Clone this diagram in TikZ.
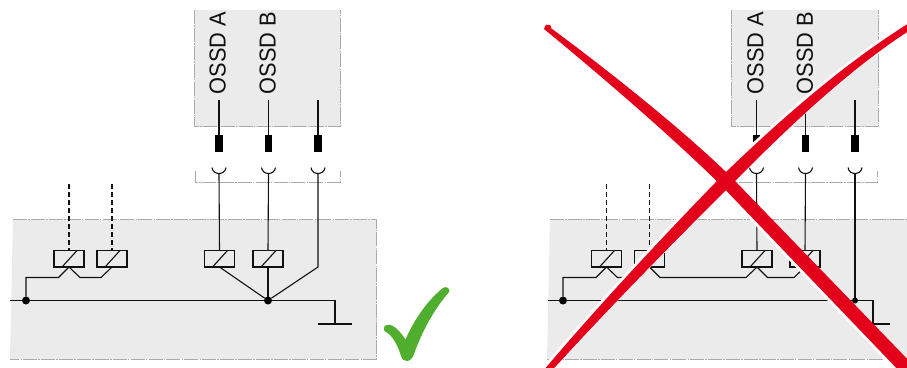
\documentclass[tikz,border=0pt]{standalone}
\usepackage{fontspec}
\setmainfont{Liberation Sans}
\definecolor{panelgray}{HTML}{EBEBEB}
\definecolor{edgegray}{HTML}{ABABAB}
\definecolor{crossred}{HTML}{E2001A}
\definecolor{okgreen}{HTML}{4FAE2E}
\definecolor{ink}{HTML}{111111}
\tikzset{
  panel/.style={fill=panelgray,draw=none},
  edge/.style={draw=edgegray,line width=1pt,dash pattern=on 14pt off 1.2pt on 1.5pt off 1.2pt},
  wire/.style={draw=ink,line width=1.1pt,line join=miter},
  buswire/.style={draw=ink,line width=1.5pt},
  dashwire/.style={draw=ink,line width=1.1pt,dash pattern=on 4.5pt off 3.5pt},
  relay/.style={draw=ink,line width=1.1pt,minimum width=30pt,minimum height=16.5pt,inner sep=0pt,outer sep=0pt},
  tab/.style={fill=black,draw=none,minimum width=7.3pt,minimum height=17.3pt,inner sep=0pt,outer sep=0pt},
  joint/.style={circle,fill=black,minimum size=8pt,inner sep=0pt,outer sep=0pt},
  osslabel/.style={rotate=90,yscale=1.06,anchor=base west,inner sep=0pt,font=\fontsize{21.8pt}{22pt}\selectfont,text=ink},
}
\newcommand{\relaybar}[1]{\draw[wire] ([xshift=8pt]#1.south west) -- ([xshift=-7pt]#1.north east);}
\begin{document}
\begin{tikzpicture}[x=1pt,y=-1pt]
\useasboundingbox (0,0) rectangle (907,367);
% ---------- left panel ----------
\fill[panel] (13,219.5) -- (376,219.5) -- (376,359) -- (10,359) -- cycle;
\draw[edge] (13,219.5) -- (376,219.5) -- (376,359) -- (10,359);
\fill[panel] (194,10) rectangle (340.5,126.5);
\draw[edge] (194,10) -- (194,126.5) -- (340.5,126.5) -- (340.5,10);
\draw[edge] (195.5,171) -- (195.5,182.5) -- (340,182.5) -- (340,171);
\node[osslabel] (la) at (225.5,94.5) {OSSD A};
\node[osslabel] (lb) at (275.5,94.5) {OSSD B};
\foreach \n/\x in {a/219,b/268.5,c/318}{
  \coordinate (ltop\n) at (\x,100);
  \coordinate (lsock\n) at (\x,173.5);
  \node[tab] (ltab\n) at (\x,143.6) {};
  \draw[wire] (ltop\n) -- (ltab\n.north);
  \draw[wire] (\x-7,167.5) .. controls (\x-6,175.5) and (\x+6,175.5) .. (\x+7,167.5);
}
\node[relay] (r1) at (69,258.75) {};
\node[relay] (r2) at (112,258.75) {};
\node[relay] (r3) at (219.5,258.75) {};
\node[relay] (r4) at (268,258.75) {};
\foreach \r in {r1,r2,r3,r4}{\relaybar{\r}}
\coordinate (d1) at (69,184);
\coordinate (d2) at (112,184);
\draw[dashwire] (d1) -- (r1.north);
\draw[dashwire] (d2) -- (r2.north);
\coordinate (busl) at (10,300.5);
\coordinate (gndl) at (335,300.5);
\coordinate (gbl) at (335,324);
\node[joint] (j1) at (26,300.5) {};
\node[joint] (j2) at (268,300.5) {};
\draw[buswire] (busl) -- (j1) -- (j2) -- (gndl) -- (gbl);
\draw[buswire] (318,324) -- (352,324);
\draw[wire] (j1) -- (26,277.5) -- (58.5,277.5) -- (r1.south) -- (80,277.5) -- (101,277.5) -- (r2.south);
\draw[wire] (lsocka) -- (r3.north);
\draw[wire] (lsockb) -- (r4.north);
\draw[wire] (r3.south) -- (j2);
\draw[wire] (r4.south) -- (j2);
\draw[wire] (lsockc) -- (318,267) -- (j2);
% check mark
\fill[okgreen] (384,328) .. controls (384,325) and (388,324) .. (392,325.5) .. controls (397,328) and (402,334) .. (405.5,339.5) .. controls (415,318) and (428,300) .. (443,288) .. controls (446,285.5) and (451,289) .. (449,292) .. controls (437,306) and (424,326) .. (414,354) .. controls (411,363) and (403,363) .. (401,356) .. controls (398,346) and (393,336) .. (386,332) .. controls (384,331) and (384,330) .. (384,328) -- cycle;
% ---------- right panel ----------
\fill[panel] (550,219.5) -- (907,219.5) -- (907,359) -- (547,359) -- cycle;
\draw[edge] (550,219.5) -- (907,219.5);
\draw[edge] (547,359) -- (907,359);
\fill[panel] (731,10) rectangle (878,126.5);
\draw[edge] (731,10) -- (731,126.5) -- (878,126.5) -- (878,10);
\draw[edge] (733,171) -- (733,182.5) -- (877.5,182.5) -- (877.5,171);
\node[osslabel] (ra) at (763.3,94.5) {OSSD A};
\node[osslabel] (rb) at (812.8,94.5) {OSSD B};
\foreach \n/\x in {a/756.5,b/805.5,c/855}{
  \coordinate (rtop\n) at (\x,100);
  \coordinate (rsock\n) at (\x,173.5);
  \node[tab] (rtab\n) at (\x,143.6) {};
  \draw[wire] (rtop\n) -- (rtab\n.north);
  \draw[wire] (\x-7,167.5) .. controls (\x-6,175.5) and (\x+6,175.5) .. (\x+7,167.5);
}
\node[relay] (s1) at (606.5,258.75) {};
\node[relay] (s2) at (649.5,258.75) {};
\node[relay] (s3) at (757,258.75) {};
\node[relay] (s4) at (805,258.75) {};
\foreach \r in {s1,s2,s3,s4}{\relaybar{\r}}
\coordinate (e1) at (606.5,184);
\coordinate (e2) at (649.5,184);
\draw[dashwire] (e1) -- (s1.north);
\draw[dashwire] (e2) -- (s2.north);
\coordinate (busr) at (547.5,300.5);
\coordinate (gndr) at (873,300.5);
\coordinate (gbr) at (873,324);
\node[joint] (k1) at (563,300.5) {};
\node[joint,minimum size=6pt] (k2) at (855,300.5) {};
\draw[buswire] (busr) -- (k1) -- (k2) -- (gndr) -- (gbr);
\draw[buswire] (856,324) -- (890,324);
\draw[wire] (k1) -- (563,277.5) -- (596,277.5) -- (s1.south) -- (617.5,277.5) -- (638,277.5) -- (s2.south) -- (660,277.5) -- (746,277.5) -- (s3.south) -- (767.5,277.5) -- (794,277.5) -- (s4.south);
\draw[wire] (rsocka) -- (s3.north);
\draw[wire] (rsockb) -- (s4.north);
\draw[wire] (rsockc) -- (k2);
% ---------- red cross ----------
\def\strokeone{(546,24.5) .. controls (600,64) and (680,127) .. (730.4,176.2) -- (916,368) -- (904,376) -- (721.6,185.8) .. controls (670,135) and (600,75) .. (544,29) -- cycle}
\def\stroketwo{(909.9,22.5) .. controls (850,60) and (790,110) .. (721.4,176.4) .. controls (680,219) and (610,292) .. (543,371) -- (551.5,371) .. controls (620,296) and (690,226) .. (730.6,185.6) .. controls (795,120) and (855,65) .. (914.1,27.5) -- cycle}
\begin{scope}
\clip (0,0) rectangle (907,367);
\fill[white,shift={(-2,2)}] \strokeone;
\fill[white,shift={(-2,-2)}] \stroketwo;
\draw[white,line width=1pt] \stroketwo;
\fill[crossred] \strokeone;
\fill[crossred] (548.5,27.5) circle[radius=2.8pt];
\fill[crossred] \stroketwo;
\end{scope}
\end{tikzpicture}
\end{document}
